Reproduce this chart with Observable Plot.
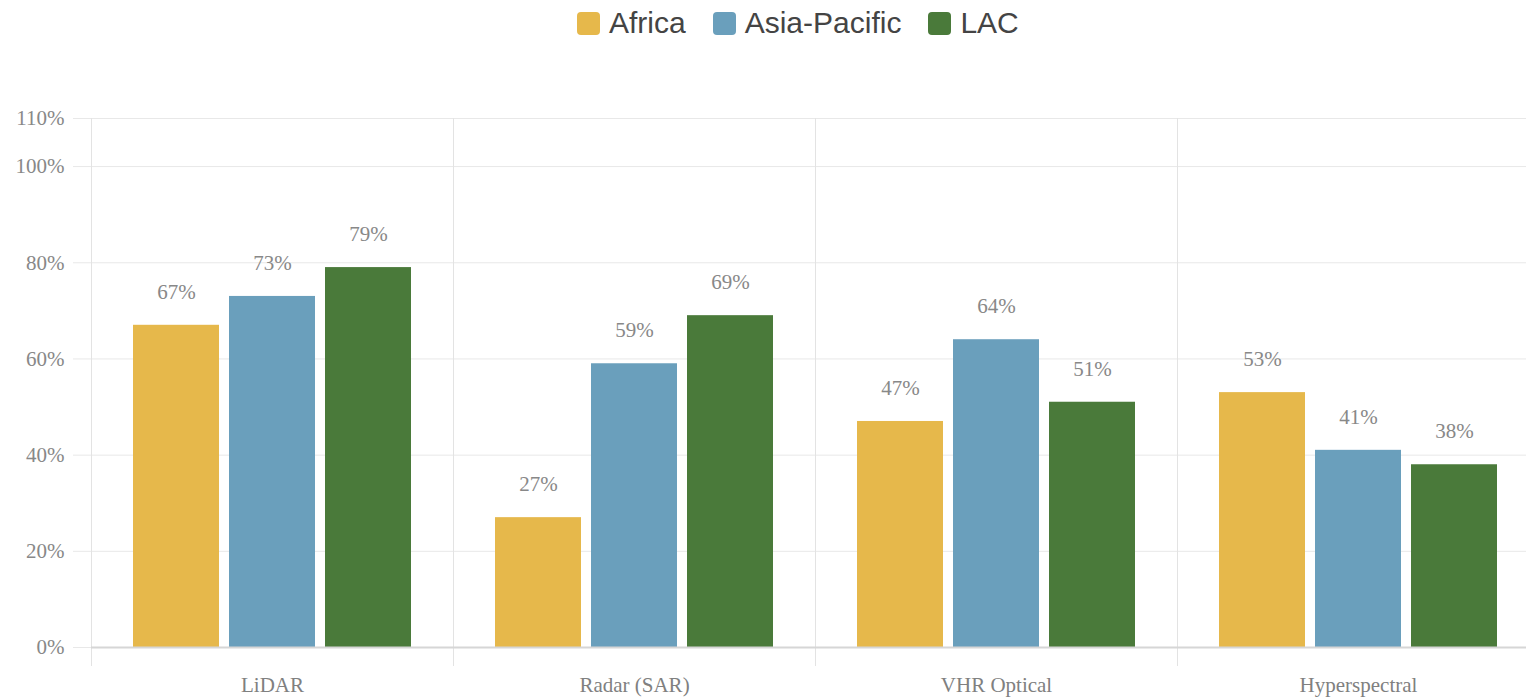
<!DOCTYPE html>
<html>
<head>
<meta charset="utf-8">
<script src="https://cdn.jsdelivr.net/npm/d3@7"></script>
<script src="https://cdn.jsdelivr.net/npm/@observablehq/plot@0.6"></script>
<style>
  html, body { margin: 0; padding: 0; background: #fff; overflow: hidden; width: 1526px; height: 697px; }
  #legend { position: absolute; top: 6px; left: 577px; display: flex; align-items: center; font-family: "Liberation Sans", Arial, sans-serif; font-size: 30px; color: #444; white-space: nowrap; }
  .item { display: flex; align-items: center; margin-right: 27px; }
  .sw { width: 23px; height: 23px; border-radius: 4px; margin-right: 9px; }
  #chart { position: absolute; top: 50px; left: 0; width: 1545px; }
  #chart svg { max-width: none !important; }
</style>
</head>
<body>
<div id="legend"></div>
<div id="chart"></div>
<script>
const categories = ["LiDAR", "Radar (SAR)", "VHR Optical", "Hyperspectral"];
const regions = ["Africa", "Asia-Pacific", "LAC"];
const africa = [67, 27, 47, 53];
const asiaPacific = [73, 59, 64, 41];
const lac = [79, 69, 51, 38];
const yTicks = [0, 20, 40, 60, 80, 100, 110];
const colors = ["#E6B84B", "#6A9FBC", "#4A7A3A"];

const seriesValues = [africa, asiaPacific, lac];
const data = [];
categories.forEach((c, i) => {
  regions.forEach((r, j) => data.push({category: c, region: r, value: seriesValues[j][i]}));
});

const legend = document.getElementById("legend");
regions.forEach((r, j) => {
  const it = document.createElement("div");
  it.className = "item";
  const sw = document.createElement("span");
  sw.className = "sw";
  sw.style.background = colors[j];
  const t = document.createElement("span");
  t.textContent = r;
  it.appendChild(sw); it.appendChild(t);
  legend.appendChild(it);
});

const chart = Plot.plot({
  width: 1545,
  height: 647,
  marginLeft: 90,
  marginRight: 5,
  marginTop: 68,
  marginBottom: 50,
  style: {fontFamily: "'Liberation Serif', 'Times New Roman', serif", fontSize: "21px", background: "transparent", maxWidth: "none"},
  fx: {domain: categories, padding: 0, label: null},
  x: {domain: regions, paddingInner: 0.1, paddingOuter: 0.428, axis: null},
  y: {domain: [0, 110], axis: null},
  color: {domain: regions, range: colors},
  marks: [
    Plot.gridY(yTicks, {stroke: "#e8e8e8", strokeOpacity: 1}),
    Plot.frame({anchor: "left", stroke: "#e3e3e3", insetBottom: -18}),
    Plot.axisY(yTicks, {tickSize: 18, tickPadding: 9, stroke: "#e8e8e8", fill: "#888", fontSize: 21, tickFormat: d => d + "%", label: null}),
    Plot.barY(data, {fx: "category", x: "region", y: "value", fill: "region"}),
    Plot.ruleY([0], {stroke: "#d6d6d6", strokeWidth: 2}),
    Plot.text(data, {fx: "category", x: "region", y: "value", text: d => d.value + "%", dy: -33, fill: "#888", fontSize: 21}),
    Plot.axisFx({anchor: "bottom", tickSize: 0, tickPadding: 30, fill: "#808080", fontSize: 21, label: null})
  ]
});
chart.style.maxWidth = "none";
document.getElementById("chart").appendChild(chart);
</script>
</body>
</html>
